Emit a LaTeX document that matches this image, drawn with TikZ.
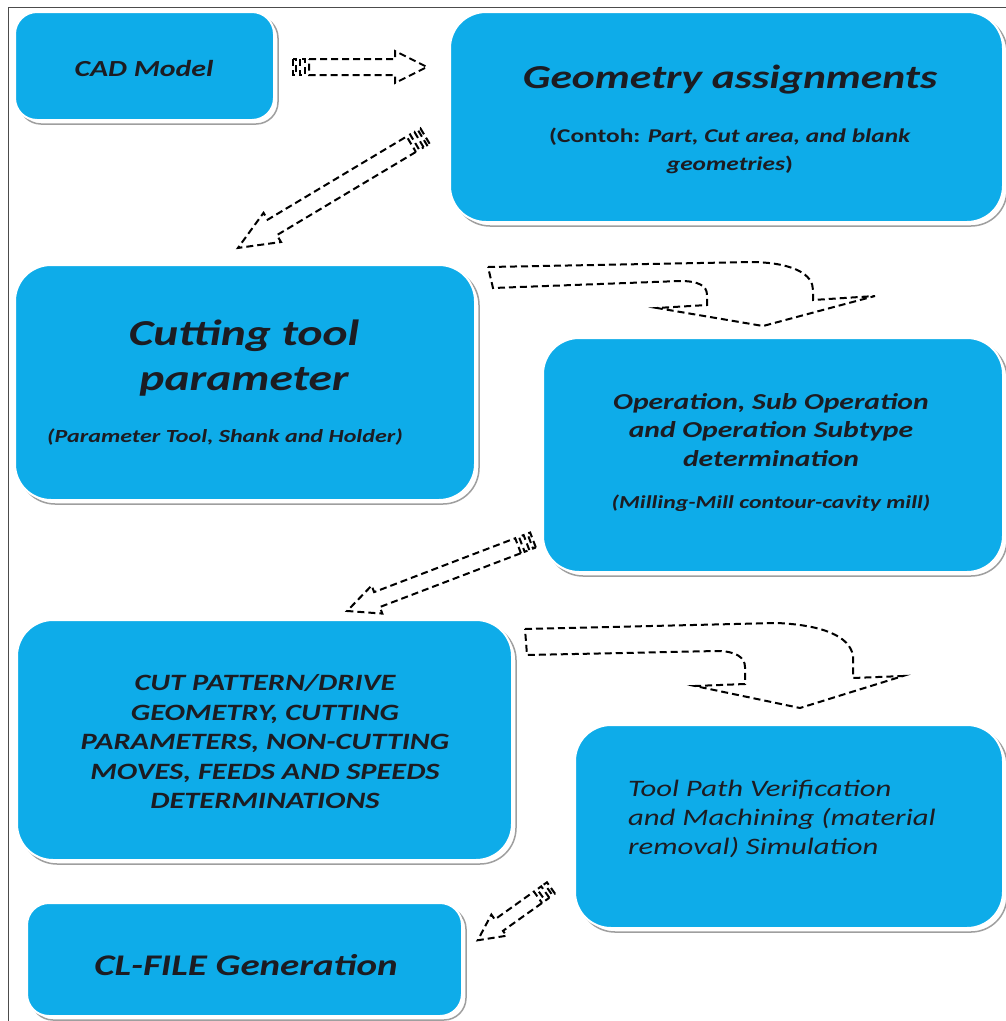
\documentclass[tikz,border=0pt]{standalone}
\usepackage{fontspec}
\setmainfont{Carlito}[FakeStretch=1.3]
\usetikzlibrary{shadows}
\definecolor{boxblue}{RGB}{14,172,233}
\definecolor{txt}{RGB}{28,28,34}
\newcommand\stripearrow[7]{%
  \begin{scope}[shift={(#1,#2)}, rotate=#3]
    \draw[dasharrow] (0,{-#5/2}) rectangle (3,{#5/2});
    \draw[dasharrow] (7,{-#5/2}) rectangle (12,{#5/2});
    \draw[dasharrow] (16,{-#5/2}) -- ({#4-#7},{-#5/2}) -- ({#4-#7},{-#6/2}) -- (#4,0)
      -- ({#4-#7},{#6/2}) -- ({#4-#7},{#5/2}) -- (16,{#5/2}) -- cycle;
  \end{scope}}
\begin{document}
\begin{tikzpicture}[x=1pt,y=-1pt,
  box/.style={draw=white, line width=2pt, fill=boxblue, inner sep=0pt,
    drop shadow={shadow xshift=4pt, shadow yshift=-4pt, fill=none, draw=gray!75, line width=1.5pt, opacity=1}},
  dasharrow/.style={draw=black, line width=2pt, dash pattern=on 7pt off 4pt, line join=miter},
  lbl/.style={text=txt, align=center, inner sep=0pt}]
\useasboundingbox (0,0) rectangle (1006,1021);
\fill[white] (0,0) rectangle (1006,1021);
\draw[gray!60!black, line width=1pt] (8,1021) -- (8,7) -- (1006,7);

% boxes
\node[box, minimum width=259pt, minimum height=108pt, rounded corners=22pt] (cad) at (144.5,66) {};
\node[box, minimum width=553pt, minimum height=210pt, rounded corners=36pt] (geom) at (726.5,117) {};
\node[box, minimum width=460pt, minimum height=235pt, rounded corners=36pt] (tool) at (245,382.5) {};
\node[box, minimum width=460pt, minimum height=234pt, rounded corners=36pt] (oper) at (773,455) {};
\node[box, minimum width=495pt, minimum height=240pt, rounded corners=36pt] (cutp) at (264.5,740) {};
\node[box, minimum width=428pt, minimum height=203pt, rounded corners=36pt] (verif) at (789,826.5) {};
\node[box, minimum width=435pt, minimum height=113pt, rounded corners=22pt] (clf) at (244.5,959.5) {};

% texts
\node[lbl, font=\fontsize{23}{28}\selectfont\bfseries\itshape] (tcad) at (144,69) {CAD Model};
\node[lbl, font=\fontsize{33.5}{38}\selectfont\bfseries\itshape] (tgeo) at (730,80) {Geometry assignments};
\node[lbl, font=\fontsize{19.5}{28}\selectfont\bfseries] (tgeo2) at (730,151)
  {(Contoh: \textit{Part, Cut area, and blank}\\ \textit{geometries})};
\node[lbl, font=\fontsize{36.5}{45}\selectfont\bfseries\itshape] (ttool) at (244,358) {Cutting tool\\parameter};
\node[lbl, font=\fontsize{18.5}{22}\selectfont\bfseries\itshape] (ttool2) at (225,437) {(Parameter Tool, Shank and Holder)};
\node[lbl, font=\fontsize{22.8}{28.5}\selectfont\bfseries\itshape] (toper) at (771,430)
  {Operation, Sub Operation\\and Operation Subtype\\determination};
\node[lbl, font=\fontsize{18.3}{22}\selectfont\bfseries\itshape] (toper2) at (771,503) {(Milling-Mill contour-cavity mill)};
\node[lbl, font=\fontsize{23.4}{29.5}\selectfont\bfseries\itshape] (tcutp) at (265,742)
  {CUT PATTERN/DRIVE\\GEOMETRY, CUTTING\\PARAMETERS, NON-CUTTING\\MOVES, FEEDS AND SPEEDS\\DETERMINATIONS};
\node[lbl, align=left, anchor=west, font=\fontsize{23.6}{29}\selectfont\itshape] (tverif) at (628,819)
  {Tool Path Verification\\and Machining (material\\removal) Simulation};
\node[lbl, font=\fontsize{30}{34}\selectfont\bfseries\itshape] (tclf) at (246,965) {CL-FILE Generation};

% straight striped block arrows
\stripearrow{293}{67}{0}{134}{16}{32}{32}
\stripearrow{425}{136}{210.9}{218}{18}{34}{40}
\stripearrow{533}{540}{200.9}{199}{16}{30}{32}
\stripearrow{551}{888}{215.5}{90}{14}{26}{26}

% curved arrows
\draw[dasharrow] (488,267) -- (753,262) .. controls (795,263) and (813,275) .. (813,290)
  -- (813,300) -- (875,296) -- (763,326) -- (657,308) -- (707,305) -- (707,295)
  .. controls (707,286) and (699,281) .. (680,281) -- (493,288) -- cycle;
\draw[dasharrow] (525,629) -- (777,623) .. controls (822,625) and (850,636) .. (853,656)
  -- (853,678) -- (903,676) -- (800,708) -- (695,686) -- (745,684) -- (745,667)
  .. controls (745,657) and (735,651) .. (717,651) -- (527,655) -- cycle;
\end{tikzpicture}
\end{document}
